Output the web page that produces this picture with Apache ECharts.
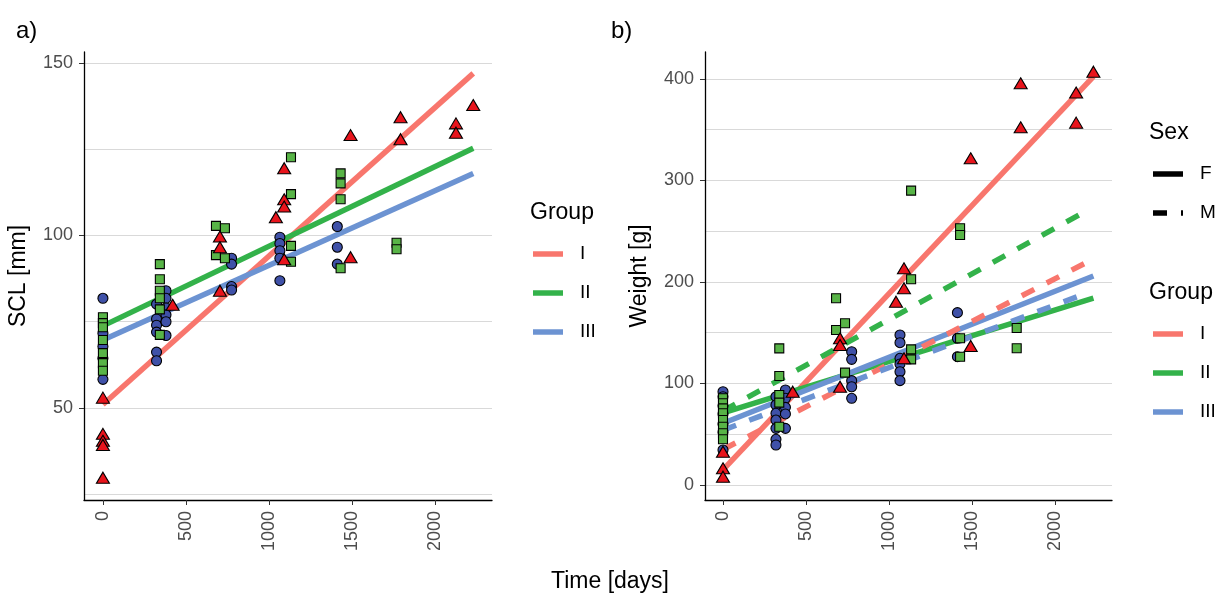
<!DOCTYPE html>
<html>
<head>
<meta charset="utf-8">
<script src="https://cdn.jsdelivr.net/npm/echarts@6/dist/echarts.min.js"></script>
<style>
  html, body { margin: 0; padding: 0; background: #fff; }
  #chart { width: 1217px; height: 596px; }
</style>
</head>
<body>
<div id="chart"></div>
<script>
// ---- panel a: SCL [mm] ----
const sclX_I = [0, 0, 0, 0, 0, 420, 705, 705, 705, 1092, 1092, 1092, 1042, 1092, 1492, 1492, 1793, 1793, 2127, 2127, 2231];
const sclY_I = [53, 42.5, 40.5, 39.3, 29.8, 79.9, 99.7, 96.6, 84, 119.5, 110.5, 108.4, 105.3, 93.1, 129.1, 93.7, 134.3, 127.9, 132.5, 129.8, 137.8];

const sclX_II = [0, 0, 0, 0, 0, 0, 0, 343, 343, 343, 343, 343, 343, 681, 735, 681, 735, 1133, 1133, 1133, 1133, 1432, 1432, 1432, 1432, 1769, 1769];
const sclY_II = [76.3, 74.6, 73.4, 69.7, 65.9, 63, 60.8, 91.7, 87.3, 84, 81.8, 78.6, 71.2, 102.8, 102.1, 94.3, 93.4, 122.7, 112, 97, 92.4, 118, 115.1, 110.5, 90.5, 97.9, 96];

const sclX_III = [0, 0, 0, 0, 0, 323, 323, 323, 323, 323, 323, 380, 380, 380, 380, 380, 380, 775, 775, 775, 775, 1066, 1066, 1066, 1066, 1066, 1412, 1412, 1412];
const sclY_III = [81.8, 71.7, 67.8, 64.4, 58.3, 80.1, 75.8, 74, 72, 66.2, 63.7, 84, 81.8, 79, 77, 75, 71, 93.4, 91.7, 85.2, 84.2, 99.5, 97.7, 95.6, 93.4, 86.9, 102.6, 96.6, 91.7];

// fitted lines (start / end)
const sclFitX = [0, 2231];
const sclFit_I = [51, 147];
const sclFit_II = [73.8, 125.3];
const sclFit_III = [69.7, 118];

// ---- panel b: Weight [g] ----
const wtX_I = [0, 0, 0, 420, 705, 705, 705, 1090, 1090, 1042, 1090, 1492, 1492, 1793, 1793, 2127, 2127, 2231];
const wtY_I = [32.8, 16.4, 8.2, 91.9, 144.5, 137.9, 96.8, 213.5, 193.8, 180.6, 124.8, 321.9, 137, 395.8, 352.4, 386.6, 357, 407.2];

const wtX_II = [0, 0, 0, 0, 0, 0, 0, 0, 339, 339, 339, 339, 339, 681, 681, 735, 735, 1133, 1133, 1133, 1133, 1428, 1428, 1428, 1428, 1769, 1769];
const wtY_II = [85.4, 80.5, 75.5, 70.6, 64, 57.4, 50.9, 45, 134.6, 107.4, 88.7, 81.1, 57.4, 184, 152.7, 159.3, 110.7, 290, 202.7, 133.6, 123.8, 252.9, 246.3, 144.5, 126.4, 154.7, 134.7];

const wtX_III = [0, 0, 0, 0, 0, 0, 0, 319, 319, 319, 319, 319, 319, 319, 376, 376, 376, 376, 376, 775, 775, 775, 775, 775, 1066, 1066, 1066, 1066, 1066, 1066, 1412, 1412, 1412];
const wtY_III = [91.9, 87, 78, 70, 60, 52, 34.5, 87, 78.8, 70.6, 64, 55.8, 45, 39.4, 93.6, 85.4, 76.5, 70, 55.8, 131.3, 123.8, 102.8, 96.8, 85.4, 147.8, 140.2, 124.8, 119.2, 111.6, 102.8, 169.8, 144.5, 126.4];

// fitted lines, females (solid)
const wtFitX_F = [0, 2231];
const wtFitF_I = [14.8, 402.3];
const wtFitF_II = [71, 184];
const wtFitF_III = [60.8, 205.9];
// fitted lines, males (dashed)
const wtFitX_M_I = [0, 2199];
const wtFitM_I = [35, 220];
const wtFitX_M_II = [0, 2181];
const wtFitM_II = [73, 269.3];
const wtFitX_M_III = [0, 2161];
const wtFitM_III = [54, 187.2];

// ticks
const xTicks = [0, 500, 1000, 1500, 2000];
const sclTicks = [50, 100, 150];
const sclGrid = [25, 50, 75, 100, 125, 150];
const wtTicks = [0, 100, 200, 300, 400];
const wtGrid = [0, 50, 100, 150, 200, 250, 300, 350, 400];

const groups = ['I', 'II', 'III'];
const lineColors = ['#F8766D', '#33B24A', '#6C93D2'];

const zip = (xs, ys) => xs.map((x, i) => [x, ys[i]]);

const FONT = '"Liberation Sans", Arial, sans-serif';
const chart = echarts.init(document.getElementById('chart'));

const plain = v => String(v);

const xAxisBase = (gridIndex, min, max) => ({
  type: 'value',
  gridIndex: gridIndex,
  min: min,
  max: max,
  axisLine: { show: true, onZero: false, lineStyle: { color: '#000', width: 1.3 } },
  axisTick: { show: true, length: 5, customValues: xTicks, lineStyle: { color: '#333' } },
  axisLabel: { customValues: xTicks, formatter: plain, rotate: 90, margin: 11, fontSize: 18, color: '#4d4d4d', fontFamily: FONT },
  splitLine: { show: false }
});

const yAxisMain = (gridIndex, min, max, ticks, title) => ({
  type: 'value',
  gridIndex: gridIndex,
  min: min,
  max: max,
  position: 'left',
  name: title,
  nameLocation: 'middle',
  nameGap: 54,
  nameTextStyle: { fontSize: 23, color: '#000', fontFamily: FONT },
  axisLine: { show: true, onZero: false, lineStyle: { color: '#000', width: 1.3 } },
  axisTick: { show: true, length: 5, customValues: ticks, lineStyle: { color: '#333' } },
  axisLabel: { customValues: ticks, formatter: plain, margin: 11, fontSize: 18, color: '#4d4d4d', fontFamily: FONT },
  splitLine: { show: false }
});

const yAxisGrid = (gridIndex, min, max, vals) => ({
  type: 'value',
  gridIndex: gridIndex,
  min: min,
  max: max,
  position: 'left',
  axisLine: { show: false, onZero: false },
  axisTick: { show: false, customValues: vals },
  axisLabel: { show: false },
  splitLine: { show: true, lineStyle: { color: '#d9d9d9', width: 1.2 } }
});

const fitLine = (xs, ys, color, xi, yi, dashed) => ({
  type: 'line',
  xAxisIndex: xi,
  yAxisIndex: yi,
  data: zip(xs, ys),
  showSymbol: false,
  symbol: 'none',
  silent: true,
  z: 2,
  lineStyle: { color: color, width: 5.5, type: dashed ? [14, 14] : 'solid', cap: 'butt' }
});

const points = (xs, ys, shape, size, fill, xi, yi) => ({
  type: 'scatter',
  xAxisIndex: xi,
  yAxisIndex: yi,
  data: zip(xs, ys),
  symbol: shape,
  symbolSize: size,
  z: 3,
  itemStyle: { color: fill, borderColor: '#000', borderWidth: 1.1, opacity: 1 }
});

// legend pieces (graphic)
const legendGraphics = [];
const addText = (txt, x, y, size, align) => legendGraphics.push({
  type: 'text', x: x, y: y,
  style: { text: txt, font: size + 'px ' + FONT, fill: '#000', textAlign: align || 'left', textVerticalAlign: 'middle', verticalAlign: 'middle' }
});
const addSeg = (x1, x2, y, color, dash) => legendGraphics.push({
  type: 'line',
  shape: { x1: x1, y1: y, x2: x2, y2: y },
  style: { stroke: color, lineWidth: 5.5, lineDash: dash || null }
});

addText('a)', 16, 31, 24);
addText('b)', 611, 31, 24);
addText('Time [days]', 610, 582, 23, 'center');

// legend panel a
addText('Group', 530, 213, 23);
groups.forEach((g, i) => {
  const y = 254 + i * 39;
  addSeg(533, 563, y, lineColors[i]);
  addText(g, 580, y, 19);
});

// legend panel b
addText('Sex', 1149, 133, 23);
addSeg(1153, 1183, 174, '#000');
addText('F', 1200, 174, 19);
addSeg(1153, 1183, 213, '#000', [14, 14]);
addText('M', 1200, 213, 19);
addText('Group', 1149, 293, 23);
groups.forEach((g, i) => {
  const y = 334 + i * 39;
  addSeg(1153, 1183, y, lineColors[i]);
  addText(g, 1200, y, 19);
});

const option = {
  animation: false,
  backgroundColor: '#fff',
  grid: [
    { left: 84, top: 52, width: 408, height: 448 },
    { left: 705, top: 52, width: 407, height: 448 }
  ],
  xAxis: [
    xAxisBase(0, -114, 2344),
    xAxisBase(1, -108.4, 2343)
  ],
  yAxis: [
    yAxisMain(0, 23.33, 153.19, sclTicks, 'SCL [mm]'),
    yAxisGrid(0, 23.33, 153.19, sclGrid),
    yAxisMain(1, -14.8, 426.6, wtTicks, 'Weight [g]'),
    yAxisGrid(1, -14.8, 426.6, wtGrid)
  ],
  graphic: { elements: legendGraphics },
  series: [
    // panel a lines
    fitLine(sclFitX, sclFit_I, lineColors[0], 0, 0),
    fitLine(sclFitX, sclFit_II, lineColors[1], 0, 0),
    fitLine(sclFitX, sclFit_III, lineColors[2], 0, 0),
    // panel b lines
    fitLine(wtFitX_F, wtFitF_I, lineColors[0], 1, 2),
    fitLine(wtFitX_F, wtFitF_II, lineColors[1], 1, 2),
    fitLine(wtFitX_F, wtFitF_III, lineColors[2], 1, 2),
    fitLine(wtFitX_M_I, wtFitM_I, lineColors[0], 1, 2, true),
    fitLine(wtFitX_M_II, wtFitM_II, lineColors[1], 1, 2, true),
    fitLine(wtFitX_M_III, wtFitM_III, lineColors[2], 1, 2, true),
    // panel a points
    points(sclX_III, sclY_III, 'circle', 10, '#3F51A8', 0, 0),
    points(sclX_II, sclY_II, 'rect', 9, '#58B447', 0, 0),
    points(sclX_I, sclY_I, 'triangle', [13, 11], '#E8141C', 0, 0),
    // panel b points
    points(wtX_III, wtY_III, 'circle', 10, '#3F51A8', 1, 2),
    points(wtX_II, wtY_II, 'rect', 9, '#58B447', 1, 2),
    points(wtX_I, wtY_I, 'triangle', [13, 11], '#E8141C', 1, 2)
  ]
};

chart.setOption(option);
</script>
</body>
</html>
